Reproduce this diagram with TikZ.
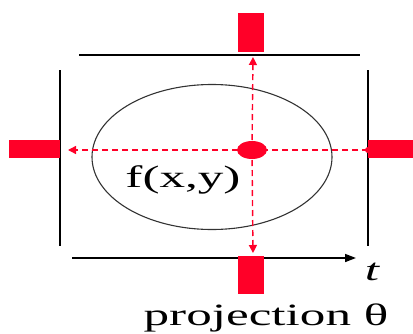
\documentclass[tikz,border=0pt]{standalone}
\usepackage{fontspec}
\setmainfont{Liberation Serif}
\usetikzlibrary{shapes.geometric,arrows.meta}
\definecolor{pred}{RGB}{255,0,40}
\tikzset{
  redbar/.style={fill=pred,draw=none,inner sep=0pt},
  frameline/.style={line width=1.6pt,black},
  projline/.style={pred,line width=1.4pt,dash pattern=on 6pt off 4pt},
  projtip/.style={-{Triangle[length=8pt,width=8pt]}},
  lbl/.style={inner sep=0pt,font=\fontsize{31}{34}\selectfont},
}
\begin{document}
\begin{tikzpicture}[x=1pt,y=-1pt]
\useasboundingbox (0,0) rectangle (413,333);
% frame lines
\draw[frameline] (79,55) -- (360,55);
\draw[frameline,line width=2pt] (60,70) -- (60,246);
\draw[frameline,line width=2pt] (368,70) -- (368,246);
\coordinate (axs) at (72,258);
\coordinate (axe) at (356,258);
\draw[frameline,-{Triangle[length=11pt,width=8pt]}] (axs) -- (axe);
% object
\node[ellipse,draw=black!80,line width=1.1pt,minimum width=240pt,minimum height=145pt,inner sep=0pt] (obj) at (212,157) {};
% projection bars
\node[redbar,minimum width=26pt,minimum height=39pt] (top) at (251,32.5) {};
\node[redbar,minimum width=26pt,minimum height=38pt] (bot) at (251,275) {};
\node[redbar,minimum width=51pt,minimum height=18pt] (lft) at (34.5,149) {};
\node[redbar,minimum width=50pt,minimum height=18pt] (rgt) at (393,149) {};
% point
\node[ellipse,fill=pred,minimum width=30pt,minimum height=18pt,inner sep=0pt] (pt) at (252,150) {};
\node[circle,fill=pred,minimum size=6pt,inner sep=0pt] (rp) at (368,150) {};
\coordinate (ltip) at (68,150);
\coordinate (ttip) at (253,57);
\coordinate (btip) at (253,253);
% projection rays
\draw[projline,projtip] (rp.center) -- (ltip);
\draw[projline,projtip] (pt.center) -- (ttip);
\draw[projline,projtip] (pt.center) -- (btip);
% labels
\node[lbl] (f) at (183,180) {\scalebox{1.65}[1]{f(x,y)}};
\node[lbl] (t) at (372,272) {\scalebox{1.65}[1]{\itshape t}};
\node[lbl] (proj) at (266,318) {\scalebox{1.65}[1]{projection θ}};
\end{tikzpicture}
\end{document}
